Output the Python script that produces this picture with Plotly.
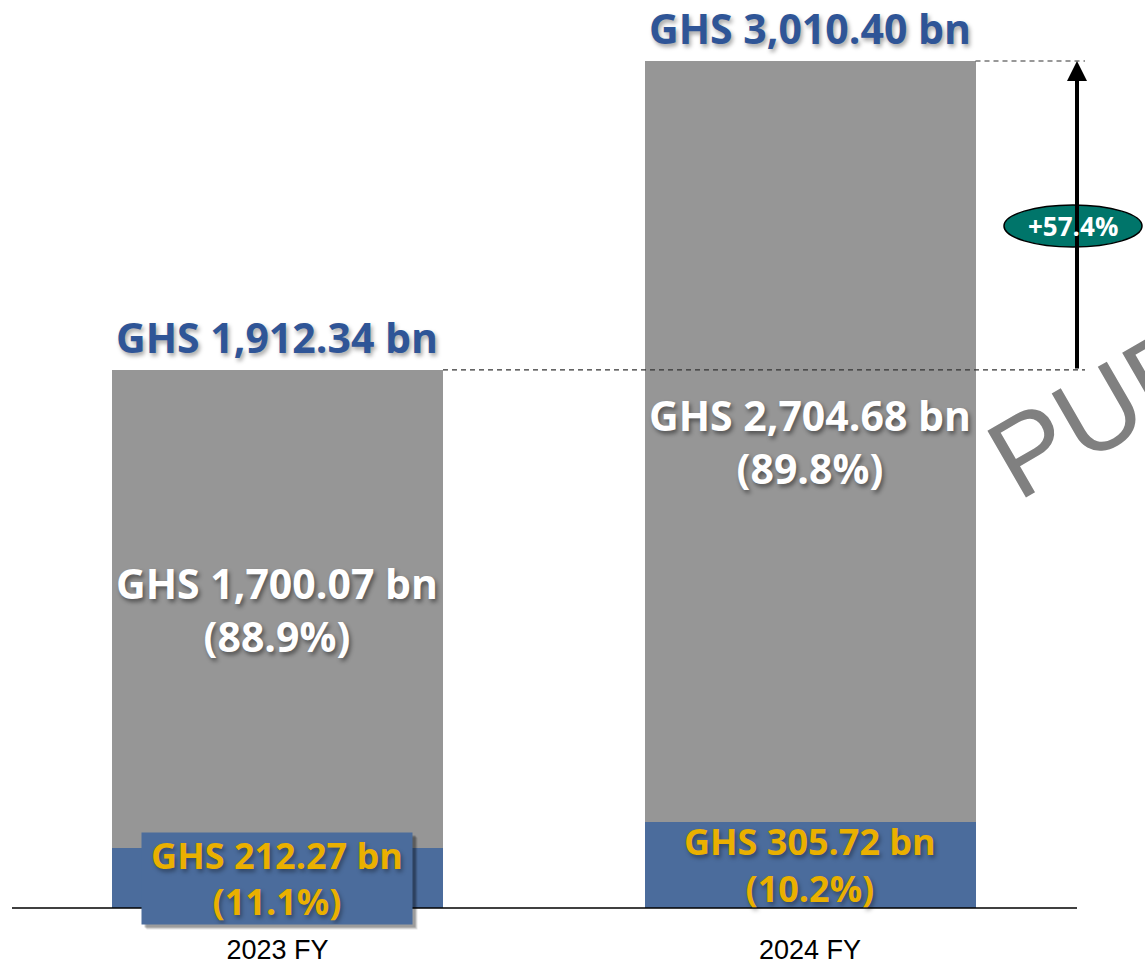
import plotly.graph_objects as go

# ---------------- data ----------------
categories = ["2023 FY", "2024 FY"]
bottom_vals = [212.27, 305.72]      # blue segment (GHS bn)
top_vals = [1700.07, 2704.68]       # gray segment (GHS bn)
totals = [1912.34, 3010.40]         # totals (GHS bn)
bottom_pct = ["11.1%", "10.2%"]
top_pct = ["88.9%", "89.8%"]

# ---------------- style ----------------
W, H = 1145, 965
MB = 50
PH = H - MB
BLUE_BAR = "#4B6C9C"
GRAY_BAR = "#969696"
BLUE_TXT = "#2F5597"
GOLD_TXT = "#EAB000"
TEAL = "#00756A"
FONT = "Open Sans"

XMIN, XMAX = -0.5211, 1.6291
YMIN, YMAX = -24.9, 3227.2
BAR_W = 0.6216


def px2x(px):
    return XMIN + px / W * (XMAX - XMIN)


def py2y(py):
    return YMAX - py / PH * (YMAX - YMIN)


def dx(px):
    return px / W * (XMAX - XMIN)


def dy(px):
    return px / PH * (YMAX - YMIN)


xs = list(range(len(categories)))

fig = go.Figure()
fig.add_trace(go.Bar(x=xs, y=bottom_vals, width=BAR_W, marker=dict(color=BLUE_BAR, line=dict(width=0)),
                     hoverinfo="skip", showlegend=False))
fig.add_trace(go.Bar(x=xs, y=top_vals, width=BAR_W, marker=dict(color=GRAY_BAR, line=dict(width=0)),
                     hoverinfo="skip", showlegend=False))

ann = []
shapes = []

# watermark (drawn first, underneath other annotations)
ann.append(dict(x=1174 / W, y=(PH - 368) / PH, xref="paper", yref="paper", showarrow=False,
                xanchor="center", yanchor="middle",
                text="PUBLIC", textangle=-30,
                font=dict(family="Liberation Sans", size=112, color="#808080")))

for i in xs:
    # total label
    ann.append(dict(x=i, y=totals[i], xref="x", yref="y", yshift=33, showarrow=False,
                    text=f"<b>GHS {totals[i]:,.2f} bn</b>",
                    font=dict(family=FONT, size=41, color=BLUE_TXT, shadow="2px 3px 4px rgba(0,0,0,0.35)")))
    # gray segment label
    ann.append(dict(x=i, y=bottom_vals[i] + top_vals[i] / 2, xref="x", yref="y", showarrow=False,
                    text=f"<b>GHS {top_vals[i]:,.2f} bn<br>({top_pct[i]})</b>",
                    font=dict(family=FONT, size=41, color="white", shadow="2px 3px 4px rgba(0,0,0,0.45)")))
    # blue segment label
    if i == 0:
        for k, op in [(6, 0.10), (5, 0.15), (4, 0.20)]:
            ann.append(dict(x=i, y=bottom_vals[i] / 2, xref="x", yref="y", showarrow=False, text=" ",
                            width=270, height=91, borderpad=0, xshift=k - 1, yshift=-(k - 1),
                            bgcolor=f"rgba(0,0,0,{op})"))
        ann.append(dict(x=i, y=bottom_vals[i] / 2, xref="x", yref="y", showarrow=False,
                        text=f"<b>GHS {bottom_vals[i]:,.2f} bn<br>({bottom_pct[i]})</b>",
                        width=270, height=91, borderpad=0, bgcolor=BLUE_BAR,
                        font=dict(family=FONT, size=36, color=GOLD_TXT, shadow="2px 3px 4px rgba(0,0,0,0.35)")))
    else:
        ann.append(dict(x=i, y=bottom_vals[i] / 2, xref="x", yref="y", showarrow=False,
                        text=f"<b>GHS {bottom_vals[i]:,.2f} bn<br>({bottom_pct[i]})</b>",
                        font=dict(family=FONT, size=36, color=GOLD_TXT, shadow="2px 3px 4px rgba(0,0,0,0.35)")))
    # dashed reference line
    shapes.append(dict(type="line", xref="x", yref="y", x0=i + BAR_W / 2, x1=px2x(1085),
                       y0=totals[i], y1=totals[i], line=dict(color="#333333", width=1.2, dash="5px,4px")))

# baseline
shapes.append(dict(type="line", xref="x", yref="y", x0=px2x(12), x1=px2x(1077), y0=0, y1=0,
                   line=dict(color="black", width=1.5)))

# growth arrow
arrow_x = px2x(1077)
ann.append(dict(x=arrow_x, y=totals[1], ax=arrow_x, ay=totals[0], xref="x", yref="y",
                axref="x", ayref="y", showarrow=True, text="", arrowhead=2, arrowsize=1,
                arrowwidth=4, arrowcolor="black", standoff=0, startstandoff=0))

# growth ellipse
growth = (totals[1] / totals[0] - 1) * 100
ell_cx, ell_cy = px2x(1073), py2y(226)
shapes.append(dict(type="circle", xref="x", yref="y", x0=ell_cx - dx(69), x1=ell_cx + dx(69),
                   y0=ell_cy - dy(21), y1=ell_cy + dy(21), fillcolor=TEAL,
                   line=dict(color="black", width=1.5), layer="above"))
ann.append(dict(x=ell_cx, y=ell_cy, xref="x", yref="y", showarrow=False, text=f"<b>+{growth:.1f}%</b>",
                font=dict(family=FONT, size=26, color="white")))

fig.update_layout(
    width=W, height=H,
    margin=dict(l=0, r=0, t=0, b=MB),
    paper_bgcolor="white", plot_bgcolor="white",
    barmode="stack", bargap=0,
    xaxis=dict(range=[XMIN, XMAX], tickvals=xs, ticktext=categories, showgrid=False, zeroline=False,
               showline=False, ticks="", ticklabelstandoff=16,
               tickfont=dict(family="Liberation Sans", size=27, color="black")),
    yaxis=dict(range=[YMIN, YMAX], visible=False, showgrid=False, zeroline=False),
    annotations=ann, shapes=shapes,
)

fig.write_html("out.html", config={"displayModeBar": False},
               post_script="document.body.style.margin='0';document.body.style.overflow='hidden';")
